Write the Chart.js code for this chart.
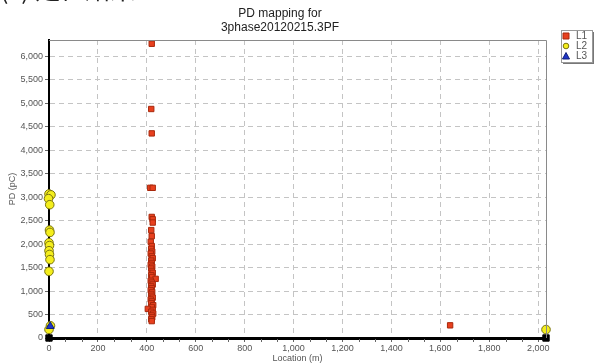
<!DOCTYPE html>
<html><head><meta charset="utf-8">
<script src="https://cdn.jsdelivr.net/npm/chart.js@4.4.0/dist/chart.umd.min.js"></script>
<style>
html,body{margin:0;padding:0;background:#fff;overflow:hidden}
#wrap{position:relative;width:595px;height:364px;overflow:hidden}
#hdr{position:absolute;left:0;top:-24px;font:25px/25px "Noto Sans CJK TC";color:#222;white-space:nowrap}
</style></head><body>
<div id="wrap"><canvas id="c" width="595" height="364"></canvas><div id="hdr">(c) 定位結果</div></div>
<script>
const titleLines = ['PD mapping for', '3phase20120215.3PF'];
const xTitle = 'Location (m)';
const yTitle = 'PD (pC)';
const seriesNames = ['L1', 'L2', 'L3'];
const xMax = 2032, yMax = 6350;
const xTicks = [0, 200, 400, 600, 800, 1000, 1200, 1400, 1600, 1800, 2000];
const yTicks = [0, 500, 1000, 1500, 2000, 2500, 3000, 3500, 4000, 4500, 5000, 5500, 6000];

// L1 (red squares)
const l1X = [420,418,420,414,424,420,424,424,418,420,416,420,418,422,416,420,424,418,420,416,422,418,420,424,418,422,436,416,420,424,418,420,416,422,418,420,424,416,420,418,426,420,404,424,418,426,420,422,418,420,1640];
const l1Y = [6270,4880,4360,3200,3200,2580,2530,2460,2300,2170,2050,1960,1900,1840,1800,1740,1700,1650,1600,1560,1520,1480,1430,1390,1340,1300,1260,1220,1180,1140,1100,1060,1020,980,940,900,860,820,780,740,700,660,620,600,560,520,480,440,400,360,270];
// L2 (yellow circles)
const l2X = [0,8,-2,3,2,4,0,2,0,2,4,0,6,0,2032];
const l2Y = [3070,3050,2970,2840,2300,2250,2030,1970,1860,1780,1670,1420,260,180,180];
// L3 (blue triangles)
const l3X = [5];
const l3Y = [250];
// cable ends (black squares)
const endX = [0, 2032];
const endY = [0, 0];

const pts = (xs, ys) => xs.map((x, i) => ({x, y: ys[i]}));

const datasets = [
  {label: seriesNames[0], order: 1, data: pts(l1X, l1Y), pointStyle: 'rect', pointRadius: 3.8, backgroundColor: '#e8401e', borderColor: '#a8280c', borderWidth: 1, clip: false},
  {label: seriesNames[1], order: 2, data: pts(l2X, l2Y), pointStyle: 'circle', pointRadius: 4.3, backgroundColor: '#f4ee1c', borderColor: '#7a7410', borderWidth: 1, clip: false},
  {label: seriesNames[2], order: 0, data: pts(l3X, l3Y), pointStyle: 'triangle', pointRadius: 4.5, backgroundColor: '#1f35c8', borderColor: '#10207a', borderWidth: 1, clip: false},
  {label: '', order: -1, data: pts(endX, endY), pointStyle: 'rect', pointRadius: 4.5, backgroundColor: '#000', borderColor: '#000', borderWidth: 1, clip: false}
];

const tickFont = {family: '"Liberation Sans", Arial', size: 9};
const tickColor = '#555';

const deco = {
  id: 'deco',
  beforeDraw(chart) {
    const ctx = chart.ctx;
    ctx.save(); ctx.fillStyle = '#fff'; ctx.fillRect(0, 0, chart.width, chart.height); ctx.restore();
  },
  afterDraw(chart) {
    const ctx = chart.ctx, a = chart.chartArea, xs = chart.scales.x;
    ctx.save();
    // top/right border
    ctx.strokeStyle = '#8a8a8a'; ctx.lineWidth = 1;
    ctx.beginPath();
    ctx.moveTo(a.left, a.top + 0.5); ctx.lineTo(a.right + 0.5, a.top + 0.5); ctx.lineTo(a.right + 0.5, a.bottom);
    ctx.stroke();
    // minor ticks on x axis (two between labelled ticks)
    ctx.strokeStyle = '#666';
    ctx.beginPath();
    for (let i = 0; i < xTicks.length; i++) {
      const v0 = xTicks[i], step = (xTicks[1] - xTicks[0]) / 3;
      for (let k = 1; k <= 2; k++) {
        const v = v0 + k * step;
        if (v > xMax) break;
        const px = Math.round(xs.getPixelForValue(v)) + 0.5;
        ctx.moveTo(px, a.bottom + 1); ctx.lineTo(px, a.bottom + 4);
      }
    }
    ctx.stroke();
    // title
    ctx.fillStyle = '#222';
    ctx.font = '12px "Liberation Sans", Arial';
    ctx.textAlign = 'center'; ctx.textBaseline = 'middle';
    ctx.fillText(titleLines[0], 280, 14);
    ctx.fillText(titleLines[1], 280, 28);
    // legend
    const bx = 561, by = 30, bw = 31, bh = 32;
    ctx.fillStyle = '#777';
    ctx.fillRect(bx + 2, by + 2, bw, bh);
    ctx.fillStyle = '#fff';
    ctx.fillRect(bx, by, bw, bh);
    ctx.strokeStyle = '#999'; ctx.lineWidth = 1;
    ctx.strokeRect(bx + 0.5, by + 0.5, bw, bh);
    ctx.font = '10px "Liberation Sans", Arial';
    ctx.textAlign = 'left';
    chart.data.datasets.filter(d => d.label).forEach((d, i) => {
      const cx = 566, cy = by + 6 + i * 10;
      ctx.fillStyle = d.backgroundColor; ctx.strokeStyle = d.borderColor; ctx.lineWidth = 1;
      ctx.beginPath();
      if (d.pointStyle === 'rect') { ctx.rect(cx - 3, cy - 3, 6, 6); }
      else if (d.pointStyle === 'circle') { ctx.arc(cx, cy, 2.8, 0, Math.PI * 2); }
      else { ctx.moveTo(cx, cy - 3.5); ctx.lineTo(cx + 3.5, cy + 3); ctx.lineTo(cx - 3.5, cy + 3); ctx.closePath(); }
      ctx.fill(); ctx.stroke();
      ctx.fillStyle = '#555';
      ctx.fillText(d.label, 576, cy + 0.5);
    });
    ctx.restore();
  }
};

new Chart(document.getElementById('c'), {
  type: 'scatter',
  data: {datasets},
  plugins: [deco],
  options: {
    responsive: false,
    animation: false,
    events: [],
    layout: {padding: {top: 40, right: 49, left: 0, bottom: 0}},
    plugins: {legend: {display: false}, title: {display: false}, tooltip: {enabled: false}},
    scales: {
      x: {
        type: 'linear', min: 0, max: xMax,
        afterFit(s) { s.height = 26; },
        afterBuildTicks(s) { s.ticks = xTicks.map(v => ({value: v})); },
        ticks: {autoSkip: false, font: tickFont, color: tickColor, padding: 1, maxRotation: 0,
          callback: v => Number(v).toLocaleString('en-US')},
        grid: {color: '#c4c4c4', lineWidth: 1, tickLength: 4, tickColor: '#666', tickBorderDash: []},
        border: {color: '#000', width: 3, dash: [5, 4]},
        title: {display: true, text: xTitle, font: tickFont, color: tickColor, padding: {top: 0, bottom: 0}}
      },
      y: {
        type: 'linear', min: 0, max: yMax,
        afterFit(s) { s.width = 49; },
        afterBuildTicks(s) { s.ticks = yTicks.map(v => ({value: v})); },
        ticks: {autoSkip: false, font: tickFont, color: tickColor, padding: 2,
          callback: v => Number(v).toLocaleString('en-US')},
        grid: {color: '#c4c4c4', lineWidth: 1, tickLength: 4, tickColor: '#666', tickBorderDash: []},
        border: {color: '#000', width: 2, dash: [5, 4]},
        title: {display: true, text: yTitle, font: tickFont, color: tickColor, padding: {top: 7, bottom: 2}}
      }
    }
  }
});
</script>
</body></html>
